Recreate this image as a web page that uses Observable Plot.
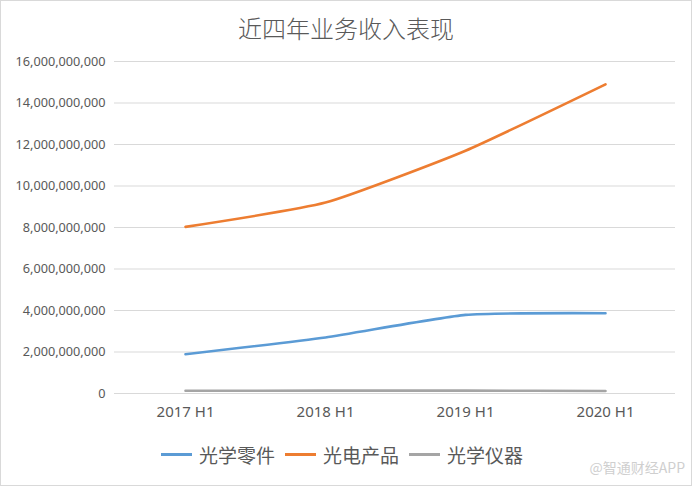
<!DOCTYPE html>
<html>
<head>
<meta charset="utf-8">
<script src="https://cdn.jsdelivr.net/npm/d3@7"></script>
<script src="https://cdn.jsdelivr.net/npm/@observablehq/plot@0.6"></script>
<style>
  html, body { margin: 0; padding: 0; background: #fff; }
  #wrap { position: relative; width: 690px; height: 484px; border: 1px solid #d9d9d9; overflow: hidden;
    font-family: "Noto Sans", "Noto Sans CJK SC", sans-serif; }
  #title { height: 49px; line-height: 54px; text-align: center; font-size: 24px; color: #595959;
    font-family: "Noto Sans CJK SC", sans-serif; font-weight: 300; }
  #legend { display: flex; justify-content: center; align-items: center; gap: 10px; margin-top: 15px;
    font-family: "Noto Sans CJK SC", sans-serif; font-size: 19px; color: #595959; padding-right: 8px; }
  .item { display: flex; align-items: center; gap: 7px; }
  .sw { width: 31px; height: 3px; }
  #wm { position: absolute; right: 6px; bottom: 8px; font-size: 14px; color: #cfcfcf;
    font-family: "Noto Sans CJK SC", sans-serif; }
</style>
</head>
<body>
<div id="wrap">
  <div id="title">近四年业务收入表现</div>
  <div id="chart"></div>
  <div id="legend"></div>
  <div id="wm">@智通财经APP</div>
</div>
<script>
const periods = ["2017 H1", "2018 H1", "2019 H1", "2020 H1"];
const seriesNames = ["光学零件", "光电产品", "光学仪器"];
const colors = ["#5b9bd5", "#ed7d31", "#a5a5a5"];
const opticalParts = [1890000000, 2700000000, 3790000000, 3870000000];
const optoProducts = [8030000000, 9200000000, 11700000000, 14900000000];
const opticalInstruments = [130000000, 140000000, 140000000, 120000000];
const yTicks = [0, 2e9, 4e9, 6e9, 8e9, 10e9, 12e9, 14e9, 16e9];

const seriesValues = [opticalParts, optoProducts, opticalInstruments];
const data = [];
seriesNames.forEach((s, i) => periods.forEach((p, j) => data.push({series: s, period: p, value: seriesValues[i][j]})));

const plot = Plot.plot({
  width: 690,
  height: 376,
  marginTop: 11,
  marginBottom: 33,
  marginLeft: 113,
  marginRight: 16,
  style: {fontFamily: "'Noto Sans', sans-serif", fontSize: "12.7px", color: "#595959", background: "#fff"},
  x: {type: "point", domain: periods, padding: 0.5, label: null},
  y: {domain: [0, 16e9], label: null},
  color: {domain: seriesNames, range: colors},
  marks: [
    Plot.gridY(yTicks, {stroke: "#d9d9d9", strokeOpacity: 1, strokeWidth: 1}),
    Plot.axisY(yTicks, {tickSize: 0, tickPadding: 9, tickFormat: d => d3.format(",")(d), label: null, fill: "#595959"}),
    Plot.axisX(periods, {tickSize: 0, tickPadding: 13, label: null, fill: "#595959", fontSize: 15}),
    Plot.line(data, {x: "period", y: "value", z: "series", stroke: "series", strokeWidth: 2.6, curve: "cardinal", tension: 0.5})
  ]
});
document.getElementById("chart").appendChild(plot);

const legend = document.getElementById("legend");
seriesNames.forEach((s, i) => {
  const it = document.createElement("div");
  it.className = "item";
  it.innerHTML = `<span class="sw" style="background:${colors[i]}"></span><span>${s}</span>`;
  legend.appendChild(it);
});
</script>
</body>
</html>
